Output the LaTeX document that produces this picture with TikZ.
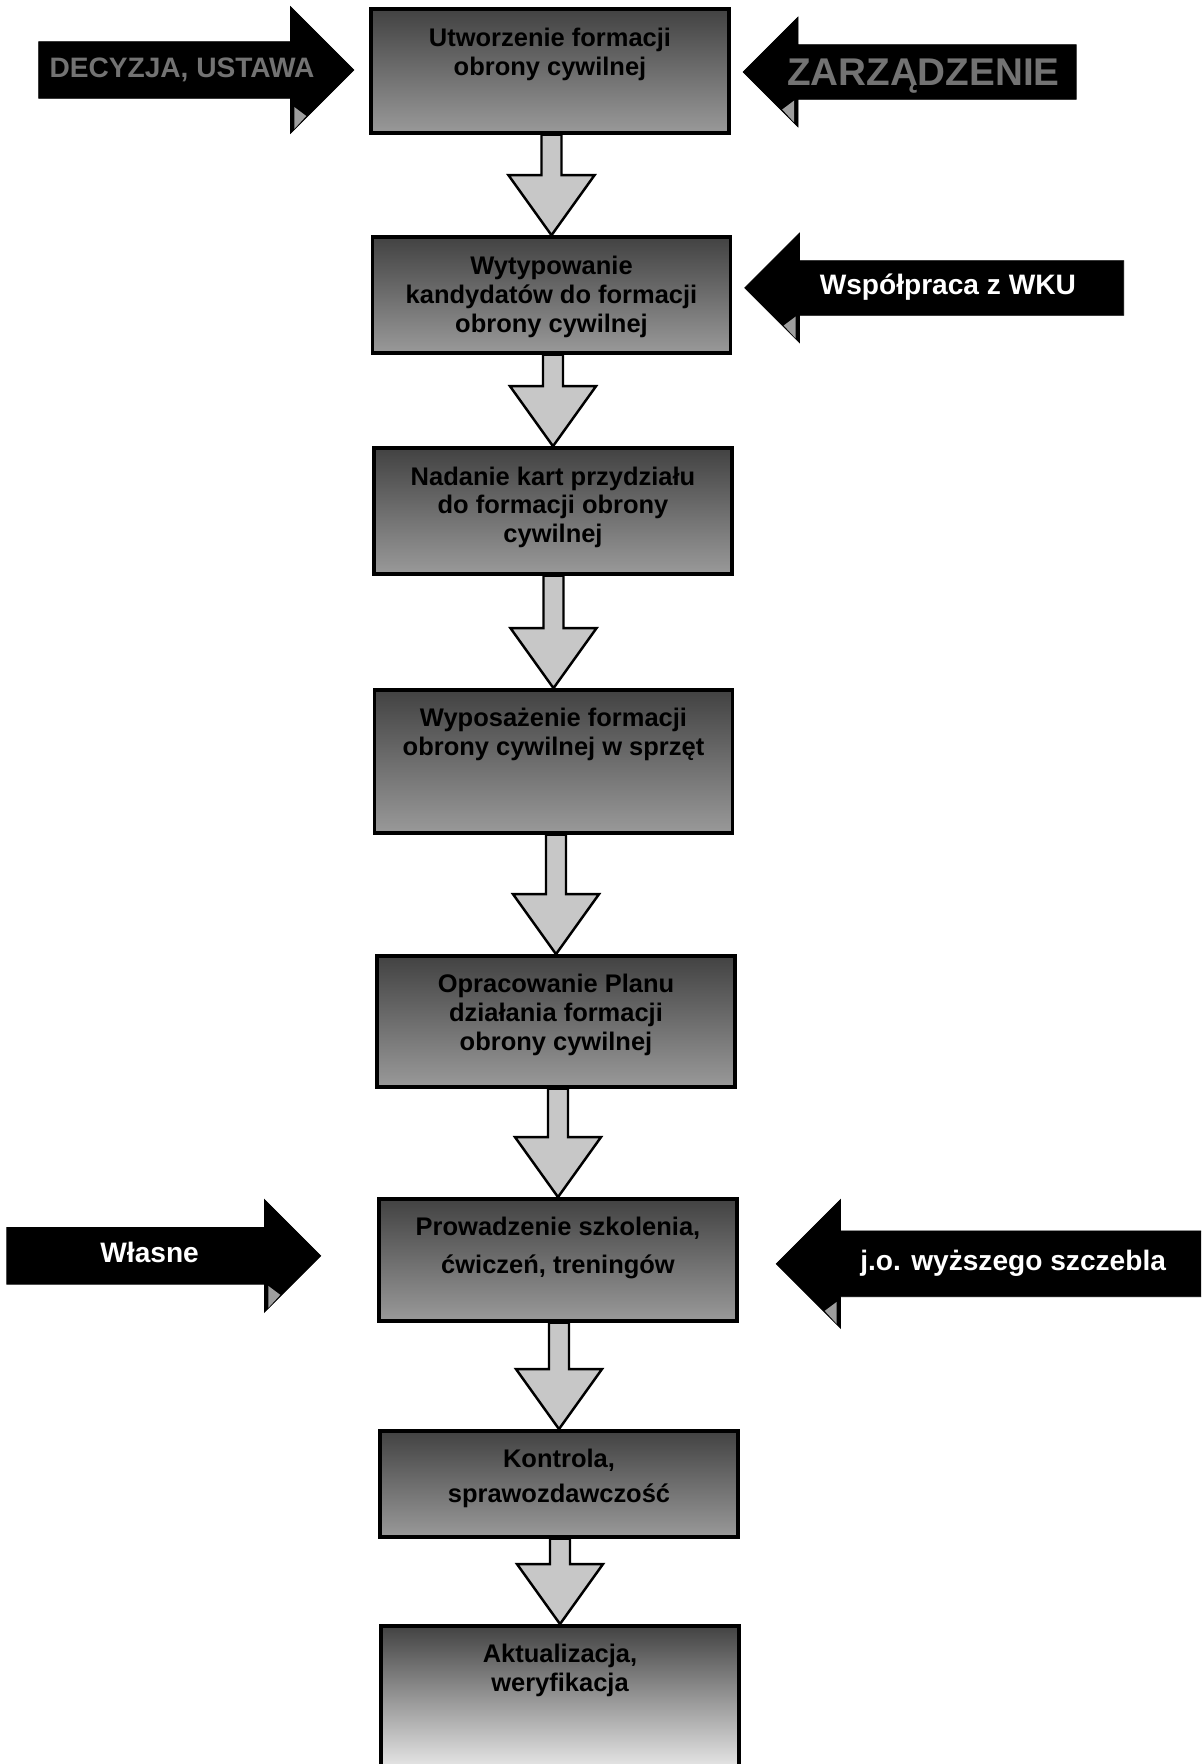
\documentclass[tikz,border=0pt]{standalone}
\usepackage{fontspec}
\setsansfont{Liberation Sans}
\usetikzlibrary{shapes.arrows, positioning, calc}

% down arrow between two steps: stem from the upper box, head touching the lower one
\newcommand{\flowdown}[2]{%
  \filldraw[downarrow] ($(#1.south -| #2.north)+(-10,0)$) -- ($(#2.north)+(-10,-60)$)
    -- ($(#2.north)+(-43,-60)$) -- (#2.north) -- ($(#2.north)+(43,-60)$)
    -- ($(#2.north)+(10,-60)$) -- ($(#1.south -| #2.north)+(10,0)$) -- cycle;}
% light corner at the back of a side arrow head (node, half head width, direction)
\newcommand{\headshade}[3]{%
  \fill[black!38] ($(#1.tip)+({#3*(3-#2)},{#2-4})$) -- ($(#1.tip)+({#3*(3-#2)},{#2-26})$)
    -- ($(#1.tip)+({#3*(15-#2)},{#2-17})$) -- cycle;}

\begin{document}
\begin{tikzpicture}[
    x=0.02cm, y=-0.02cm,
    box/.style={rectangle, draw=black, line width=2pt, top color=black!74, bottom color=black!40, minimum width=7.16cm, inner sep=0pt},
    boxtext/.style={anchor=north, inner sep=0pt, yshift=-0.4cm, align=center, text=black, font=\sffamily\bfseries\fontsize{14.5}{16.5}\selectfont},
    downarrow/.style={draw=black, line width=1.4pt, fill=black!22, line join=miter},
    sidearrow/.style={single arrow, single arrow head extend=0.55cm, draw=black, fill=black, text=white, anchor=tip, font=\sffamily\bfseries\fontsize{16}{18}\selectfont, text height=11.5pt, text depth=3.5pt, inner xsep=6pt, inner ysep=8.45pt},
    toleft/.style={shape border rotate=180}
]
\useasboundingbox (0,0) rectangle (1201,1764);
\clip (0,0) rectangle (1201,1764);

% Steps
\node[box, minimum height=2.48cm, label={[boxtext]north:{Utworzenie formacji\\obrony cywilnej}}] (utworzenie) at (550,71) {};
\node[box, minimum height=2.32cm, below=2.01cm of utworzenie, xshift=0.03cm, label={[boxtext]north:{Wytypowanie\\kandydatów do formacji\\obrony cywilnej}}] (wytypowanie) {};
\node[box, minimum height=2.52cm, below=1.83cm of wytypowanie, xshift=0.03cm, label={[boxtext]north:{Nadanie kart przydziału\\do formacji obrony\\cywilnej}}] (nadanie) {};
\node[box, minimum height=2.86cm, below=2.25cm of nadanie, xshift=0.01cm, label={[boxtext]north:{Wyposażenie formacji\\obrony cywilnej w sprzęt}}] (wyposazenie) {};
\node[box, minimum height=2.62cm, below=2.39cm of wyposazenie, xshift=0.05cm, label={[boxtext]north:{Opracowanie Planu\\działania formacji\\obrony cywilnej}}] (plan) {};
\node[box, minimum height=2.44cm, below=2.17cm of plan, xshift=0.04cm, label={[boxtext]north:{Prowadzenie szkolenia,\\[5pt]ćwiczeń, treningów}}] (szkolenie) {};
\node[box, minimum height=2.12cm, below=2.13cm of szkolenie, xshift=0.02cm, label={[boxtext]north:{Kontrola,\\[3pt]sprawozdawczość}}] (kontrola) {};
\node[box, minimum height=3cm, below=1.71cm of kontrola, xshift=0.02cm, bottom color=black!6, label={[boxtext]north:{Aktualizacja,\\weryfikacja}}] (aktualizacja) {};

% Inputs
\node[sidearrow, single arrow head extend=0.7cm, minimum height=6.26cm, text=black!55] (decyzja) at ($(utworzenie.west)+(-15,-1)$) {DECYZJA, USTAWA};
\node[sidearrow, toleft, minimum height=6.66cm, inner ysep=7.45pt, text height=15.8pt, text depth=0pt, text=black!55, font=\sffamily\bfseries\fontsize{22}{24}\selectfont] (zarzadzenie) at ($(utworzenie.east)+(12,1)$) {ZARZĄDZENIE};
\node[sidearrow, toleft, minimum height=7.58cm, inner ysep=7.85pt] (wku) at ($(wytypowanie.east)+(12,-7)$) {Współpraca z WKU};
\node[sidearrow, single arrow head extend=0.56cm, minimum height=6.28cm] (wlasne) at ($(szkolenie.west)+(-56,-4)$) {Własne};
\node[sidearrow, toleft, single arrow head extend=0.63cm, minimum height=8.82cm, inner ysep=11pt] (szczebel) at ($(szkolenie.east)+(37,4)$) {j.o. wyższego szczebla};

\headshade{decyzja}{63}{1}
\headshade{zarzadzenie}{54.5}{-1}
\headshade{wku}{54.5}{-1}
\headshade{wlasne}{56}{1}
\headshade{szczebel}{64}{-1}

% Flow
\flowdown{utworzenie}{wytypowanie}
\flowdown{wytypowanie}{nadanie}
\flowdown{nadanie}{wyposazenie}
\flowdown{wyposazenie}{plan}
\flowdown{plan}{szkolenie}
\flowdown{szkolenie}{kontrola}
\flowdown{kontrola}{aktualizacja}

\end{tikzpicture}
\end{document}
